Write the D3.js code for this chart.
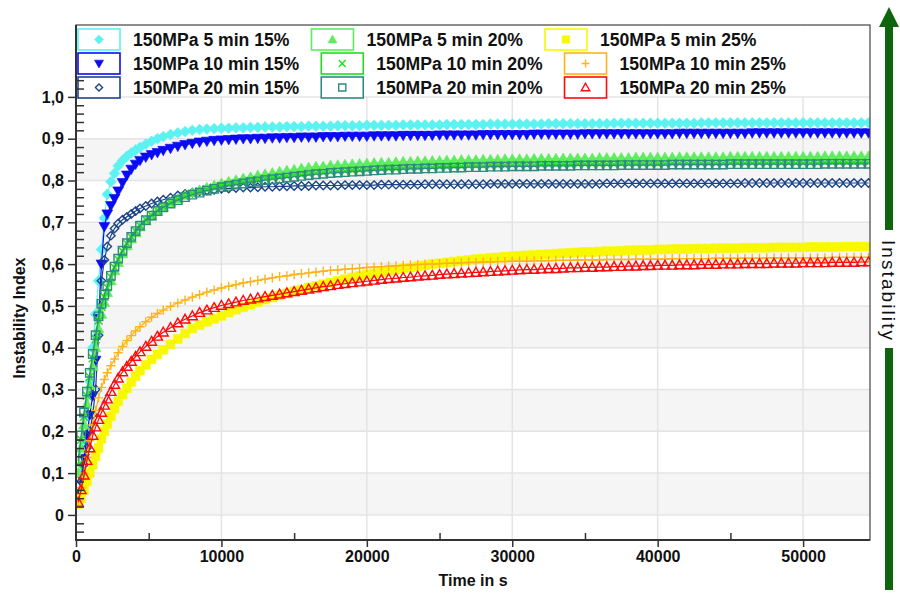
<!DOCTYPE html>
<html>
<head>
<meta charset="UTF-8">
<title>Instability Index</title>
<script src="https://cdn.jsdelivr.net/npm/d3@7"></script>
<style>
  body { margin: 0; background: #fff; }
  svg { display: block; font-family: "Liberation Sans", Arial, sans-serif; }
</style>
</head>
<body>
<script>
// measurement times (s)
const times = [150,350,550,750,950,1150,1350,1550,1750,1950,
  2150,2400,2650,2900,3200,3500,3800,4100,4400,4800,
  5200,5600,6000,6500,7000,7500,8000,8500,9000,9500,
  10000,
  10500,11000,11500,12000,12500,13000,13500,14000,14500,15000,
  15500,16000,16500,17000,17500,18000,18500,19000,19500,20000,
  20500,21000,21500,22000,22500,23000,23500,24000,24500,25000,
  25500,26000,26500,27000,27500,28000,28500,29000,29500,30000,
  30500,31000,31500,32000,32500,33000,33500,34000,34500,35000,
  35500,36000,36500,37000,37500,38000,38500,39000,39500,40000,
  40500,41000,41500,42000,42500,43000,43500,44000,44500,45000,
  45500,46000,46500,47000,47500,48000,48500,49000,49500,50000,
  50500,51000,51500,52000,52500,53000,53500,54000,54500];

const mpa5_15 = [0.05,0.1,0.165,0.24,0.32,0.4,0.48,0.56,0.635,0.71,
  0.767,0.797,0.817,0.835,0.848,0.858,0.866,0.873,0.879,0.887,
  0.894,0.9,0.905,0.91,0.914,0.917,0.92,0.922,0.923,0.924,
  0.925,
  0.925,0.926,0.926,0.927,0.927,0.928,0.928,0.928,0.929,0.929,
  0.929,0.93,0.93,0.93,0.93,0.931,0.931,0.931,0.931,0.932,
  0.932,0.932,0.932,0.932,0.933,0.933,0.933,0.933,0.933,0.933,
  0.934,0.934,0.934,0.934,0.934,0.934,0.935,0.935,0.935,0.935,
  0.935,0.935,0.935,0.935,0.936,0.936,0.936,0.936,0.936,0.936,
  0.936,0.936,0.936,0.937,0.937,0.937,0.937,0.937,0.937,0.937,
  0.937,0.937,0.937,0.937,0.937,0.938,0.938,0.938,0.938,0.938,
  0.938,0.938,0.938,0.938,0.938,0.938,0.938,0.938,0.938,0.938,
  0.938,0.938,0.938,0.938,0.938,0.938,0.938,0.938,0.938];

const mpa10_15 = [0.05,0.09,0.135,0.19,0.24,0.285,0.37,0.47,0.6,0.69,
  0.72,0.74,0.757,0.775,0.795,0.813,0.827,0.839,0.848,0.856,
  0.862,0.867,0.872,0.877,0.882,0.886,0.889,0.892,0.894,0.896,
  0.897,
  0.898,0.899,0.9,0.9,0.901,0.901,0.902,0.902,0.903,0.903,
  0.904,0.904,0.904,0.905,0.905,0.905,0.906,0.906,0.906,0.906,
  0.907,0.907,0.907,0.907,0.908,0.908,0.908,0.908,0.908,0.909,
  0.909,0.909,0.909,0.909,0.909,0.91,0.91,0.91,0.91,0.91,
  0.91,0.91,0.911,0.911,0.911,0.911,0.911,0.911,0.911,0.912,
  0.912,0.912,0.912,0.912,0.912,0.912,0.912,0.912,0.912,0.912,
  0.912,0.912,0.913,0.913,0.913,0.913,0.913,0.913,0.913,0.913,
  0.913,0.913,0.914,0.914,0.914,0.914,0.914,0.914,0.914,0.914,
  0.914,0.914,0.914,0.914,0.914,0.914,0.914,0.914,0.914];

const mpa20_15 = [0.04,0.08,0.12,0.16,0.2,0.24,0.3,0.43,0.56,0.61,
  0.642,0.668,0.685,0.697,0.706,0.713,0.72,0.727,0.733,0.739,
  0.745,0.75,0.754,0.759,0.764,0.768,0.771,0.774,0.776,0.778,
  0.78,
  0.781,0.782,0.783,0.783,0.784,0.785,0.785,0.786,0.786,0.787,
  0.787,0.787,0.788,0.788,0.788,0.788,0.789,0.789,0.789,0.789,
  0.789,0.79,0.79,0.79,0.79,0.79,0.79,0.791,0.791,0.791,
  0.791,0.791,0.791,0.791,0.791,0.791,0.792,0.792,0.792,0.792,
  0.792,0.792,0.792,0.792,0.792,0.792,0.792,0.792,0.792,0.792,
  0.792,0.792,0.793,0.793,0.793,0.793,0.793,0.793,0.793,0.793,
  0.793,0.793,0.793,0.793,0.793,0.793,0.793,0.793,0.793,0.793,
  0.793,0.794,0.794,0.794,0.794,0.794,0.794,0.794,0.794,0.794,
  0.794,0.794,0.794,0.794,0.794,0.794,0.794,0.794,0.794];

const mpa5_20 = [0.1,0.16,0.215,0.265,0.31,0.355,0.4,0.445,0.48,0.508,
  0.532,0.56,0.584,0.604,0.625,0.644,0.66,0.675,0.689,0.703,
  0.715,0.726,0.736,0.747,0.756,0.764,0.771,0.777,0.783,0.788,
  0.793,
  0.797,0.801,0.805,0.808,0.812,0.815,0.818,0.821,0.824,0.826,
  0.829,0.831,0.833,0.834,0.836,0.837,0.838,0.839,0.84,0.841,
  0.842,0.843,0.843,0.844,0.845,0.845,0.846,0.846,0.847,0.847,
  0.848,0.848,0.849,0.849,0.849,0.85,0.85,0.85,0.851,0.851,
  0.851,0.851,0.852,0.852,0.852,0.852,0.853,0.853,0.853,0.853,
  0.853,0.854,0.854,0.854,0.854,0.854,0.855,0.855,0.855,0.855,
  0.855,0.855,0.856,0.856,0.856,0.856,0.856,0.856,0.856,0.857,
  0.857,0.857,0.857,0.857,0.857,0.857,0.857,0.857,0.857,0.857,
  0.857,0.857,0.858,0.858,0.858,0.858,0.858,0.858,0.858];

const mpa10_20 = [0.12,0.18,0.235,0.285,0.33,0.375,0.42,0.465,0.498,0.522,
  0.544,0.569,0.592,0.611,0.631,0.649,0.665,0.679,0.692,0.706,
  0.717,0.728,0.737,0.747,0.755,0.762,0.768,0.774,0.779,0.783,
  0.787,
  0.79,0.793,0.796,0.799,0.801,0.804,0.806,0.808,0.81,0.812,
  0.814,0.816,0.818,0.819,0.821,0.822,0.823,0.824,0.825,0.826,
  0.827,0.828,0.829,0.829,0.83,0.831,0.831,0.832,0.832,0.833,
  0.833,0.834,0.834,0.835,0.835,0.835,0.836,0.836,0.836,0.837,
  0.837,0.837,0.837,0.838,0.838,0.838,0.838,0.838,0.839,0.839,
  0.839,0.839,0.839,0.839,0.84,0.84,0.84,0.84,0.84,0.84,
  0.84,0.841,0.841,0.841,0.841,0.841,0.841,0.841,0.841,0.842,
  0.842,0.842,0.842,0.842,0.842,0.842,0.842,0.842,0.842,0.842,
  0.842,0.842,0.843,0.843,0.843,0.843,0.843,0.843,0.843];

const mpa20_20 = [0.13,0.19,0.245,0.295,0.34,0.385,0.43,0.475,0.505,0.527,
  0.548,0.572,0.594,0.613,0.632,0.65,0.665,0.679,0.692,0.705,
  0.716,0.727,0.736,0.745,0.753,0.76,0.766,0.771,0.776,0.78,
  0.784,
  0.787,0.79,0.793,0.796,0.798,0.801,0.803,0.805,0.807,0.809,
  0.811,0.813,0.815,0.816,0.818,0.819,0.82,0.821,0.822,0.823,
  0.824,0.825,0.826,0.826,0.827,0.828,0.828,0.829,0.829,0.83,
  0.83,0.831,0.831,0.832,0.832,0.832,0.833,0.833,0.833,0.834,
  0.834,0.834,0.834,0.835,0.835,0.835,0.835,0.835,0.836,0.836,
  0.836,0.836,0.836,0.836,0.837,0.837,0.837,0.837,0.837,0.837,
  0.837,0.838,0.838,0.838,0.838,0.838,0.838,0.838,0.838,0.839,
  0.839,0.839,0.839,0.839,0.839,0.839,0.839,0.839,0.839,0.839,
  0.839,0.839,0.84,0.84,0.84,0.84,0.84,0.84,0.84];

const mpa5_25 = [0.025,0.04,0.06,0.08,0.1,0.12,0.14,0.16,0.182,0.2,
  0.217,0.236,0.254,0.272,0.288,0.303,0.318,0.332,0.345,0.359,
  0.372,0.384,0.395,0.408,0.421,0.434,0.446,0.454,0.462,0.469,
  0.476,
  0.484,0.491,0.497,0.503,0.509,0.515,0.52,0.525,0.53,0.535,
  0.539,0.544,0.548,0.552,0.556,0.56,0.564,0.568,0.572,0.575,
  0.578,0.581,0.584,0.587,0.59,0.592,0.595,0.597,0.6,0.602,
  0.604,0.606,0.608,0.61,0.612,0.613,0.615,0.616,0.618,0.619,
  0.62,0.621,0.622,0.623,0.624,0.625,0.626,0.627,0.628,0.629,
  0.629,0.63,0.631,0.631,0.632,0.633,0.633,0.634,0.634,0.635,
  0.635,0.636,0.636,0.636,0.637,0.637,0.637,0.638,0.638,0.638,
  0.638,0.639,0.639,0.639,0.639,0.64,0.64,0.64,0.64,0.64,
  0.641,0.641,0.641,0.641,0.641,0.642,0.642,0.642,0.642];

const mpa10_25 = [0.035,0.065,0.1,0.138,0.178,0.215,0.25,0.28,0.305,0.324,
  0.34,0.357,0.373,0.388,0.403,0.417,0.429,0.44,0.45,0.462,
  0.473,0.482,0.49,0.499,0.507,0.514,0.521,0.527,0.533,0.538,
  0.543,
  0.547,0.551,0.555,0.558,0.561,0.564,0.567,0.57,0.572,0.575,
  0.577,0.579,0.581,0.583,0.585,0.586,0.588,0.589,0.59,0.592,
  0.593,0.594,0.595,0.596,0.597,0.598,0.599,0.6,0.6,0.601,
  0.602,0.602,0.603,0.604,0.604,0.605,0.605,0.606,0.606,0.607,
  0.607,0.607,0.608,0.608,0.608,0.609,0.609,0.609,0.61,0.61,
  0.61,0.61,0.611,0.611,0.611,0.611,0.612,0.612,0.612,0.612,
  0.612,0.613,0.613,0.613,0.613,0.613,0.613,0.614,0.614,0.614,
  0.614,0.614,0.614,0.614,0.615,0.615,0.615,0.615,0.615,0.615,
  0.615,0.615,0.615,0.616,0.616,0.616,0.616,0.616,0.616];

const mpa20_25 = [0.03,0.06,0.095,0.13,0.16,0.19,0.21,0.228,0.245,0.262,
  0.277,0.295,0.312,0.327,0.342,0.355,0.367,0.379,0.39,0.403,
  0.415,0.427,0.437,0.448,0.459,0.468,0.476,0.484,0.49,0.496,
  0.501,
  0.505,0.509,0.513,0.516,0.519,0.522,0.525,0.528,0.531,0.534,
  0.537,0.54,0.543,0.546,0.548,0.551,0.553,0.555,0.557,0.559,
  0.561,0.563,0.565,0.566,0.568,0.569,0.571,0.572,0.573,0.575,
  0.576,0.577,0.578,0.579,0.58,0.581,0.582,0.583,0.584,0.585,
  0.586,0.587,0.587,0.588,0.589,0.589,0.59,0.591,0.591,0.592,
  0.592,0.593,0.593,0.594,0.594,0.595,0.595,0.596,0.596,0.597,
  0.597,0.597,0.598,0.598,0.598,0.599,0.599,0.599,0.6,0.6,
  0.6,0.601,0.601,0.601,0.601,0.602,0.602,0.602,0.602,0.603,
  0.603,0.603,0.603,0.604,0.604,0.604,0.604,0.605,0.605];

const seriesNames = ["150MPa 5 min 15%", "150MPa 10 min 15%", "150MPa 20 min 15%",
  "150MPa 5 min 20%", "150MPa 10 min 20%", "150MPa 20 min 20%",
  "150MPa 5 min 25%", "150MPa 10 min 25%", "150MPa 20 min 25%"];
const seriesValues = [mpa5_15, mpa10_15, mpa20_15, mpa5_20, mpa10_20, mpa20_20, mpa5_25, mpa10_25, mpa20_25];

const xTicks = [0, 10000, 20000, 30000, 40000, 50000];
const xMinorTicks = [5000, 15000, 25000, 35000, 45000];
const yTicks = [0, 0.1, 0.2, 0.3, 0.4, 0.5, 0.6, 0.7, 0.8, 0.9, 1.0];
const yTickLabels = ["0", "0,1", "0,2", "0,3", "0,4", "0,5", "0,6", "0,7", "0,8", "0,9", "1,0"];

// look of each series, same order as seriesNames
const styles = [
  {color: "#5cf2f2", shape: "diamond", filled: true, r: 5.4},
  {color: "#0a0af5", shape: "triDown", filled: true, r: 5.4},
  {color: "#1c4587", shape: "diamond", filled: false, r: 4.2},
  {color: "#5ded5d", shape: "triUp", filled: true, r: 5.4},
  {color: "#22dd22", shape: "cross", filled: false, r: 4},
  {color: "#2e8b80", shape: "square", filled: false, r: 4.2},
  {color: "#f8f800", shape: "square", filled: true, r: 4.4},
  {color: "#ffb31a", shape: "plus", filled: false, r: 4.6},
  {color: "#ff0a0a", shape: "triUp", filled: false, r: 5}
];

function marker(shape, r) {
  switch (shape) {
    case "diamond": return `M0,${-r}L${r},0L0,${r}L${-r},0Z`;
    case "triDown": return `M${-r},${-r * 0.75}L${r},${-r * 0.75}L0,${r}Z`;
    case "triUp": return `M0,${-r}L${r},${r * 0.75}L${-r},${r * 0.75}Z`;
    case "square": return `M${-r},${-r}H${r}V${r}H${-r}Z`;
    case "cross": return `M${-r},${-r}L${r},${r}M${r},${-r}L${-r},${r}`;
    case "plus": return `M${-r},0H${r}M0,${-r}V${r}`;
  }
}

const width = 900, height = 594;
const x = d3.scaleLinear().domain([0, 54600]).range([76, 870]);
const y = d3.scaleLinear().domain([-0.06, 1.172]).range([540, 25]);

const svg = d3.select("body").append("svg")
  .attr("width", width)
  .attr("height", height);

svg.append("clipPath").attr("id", "plot")
  .append("rect")
  .attr("x", 76).attr("y", 25).attr("width", 794).attr("height", 515);

// alternating grey bands
svg.append("g").selectAll("rect")
  .data([0, 0.2, 0.4, 0.6, 0.8])
  .join("rect")
  .attr("x", x(0)).attr("width", x(54600) - x(0))
  .attr("y", d => y(d + 0.1)).attr("height", d => y(d) - y(d + 0.1))
  .attr("fill", "#f5f5f5");

// grid
svg.append("g").attr("stroke", "#e4e4e4").attr("stroke-width", 1.5)
  .selectAll("line").data(yTicks).join("line")
  .attr("x1", x(0)).attr("x2", x(54600))
  .attr("y1", d => y(d)).attr("y2", d => y(d));
svg.append("g").attr("stroke", "#e4e4e4").attr("stroke-width", 1.5)
  .selectAll("line").data(xTicks.slice(1)).join("line")
  .attr("x1", d => x(d)).attr("x2", d => x(d))
  .attr("y1", 25).attr("y2", 540);

// series
const line = d3.line().x(d => x(d.t)).y(d => y(d.v));
const plot = svg.append("g").attr("clip-path", "url(#plot)");

seriesValues.forEach((vals, i) => {
  const st = styles[i];
  const pts = times.map((t, j) => ({t: t, v: vals[j]}));
  const g = plot.append("g");
  g.append("path")
    .datum(pts)
    .attr("d", line)
    .attr("fill", "none")
    .attr("stroke", st.color)
    .attr("stroke-width", 1.2);
  g.selectAll("path.m")
    .data(pts)
    .join("path")
    .attr("class", "m")
    .attr("transform", d => `translate(${x(d.t)},${y(d.v)})`)
    .attr("d", marker(st.shape, st.r))
    .attr("fill", st.filled ? st.color : "none")
    .attr("stroke", st.color)
    .attr("stroke-width", st.filled ? 0.6 : 1.4);
});

// legend
svg.append("rect")
  .attr("x", 77).attr("y", 26).attr("width", 792).attr("height", 70)
  .attr("fill", "#fff");

const legendRows = [[0, 3, 6], [1, 4, 7], [2, 5, 8]];
const rowY = [39.5, 63.5, 87.5];
const legend = svg.append("g").attr("font-weight", "bold").attr("font-size", 17.6);

legendRows.forEach((row, r) => {
  let lx = 78;
  row.forEach(i => {
    const st = styles[i];
    const g = legend.append("g");
    g.append("rect")
      .attr("x", lx).attr("y", rowY[r] - 10.5)
      .attr("width", 42).attr("height", 21)
      .attr("fill", "#fff")
      .attr("stroke", st.color)
      .attr("stroke-width", 1.6);
    g.append("path")
      .attr("transform", `translate(${lx + 21},${rowY[r]})`)
      .attr("d", marker(st.shape, Math.min(st.r * 0.85, 4.5)))
      .attr("fill", st.filled ? st.color : "none")
      .attr("stroke", st.color)
      .attr("stroke-width", st.filled ? 0.6 : 1.4);
    const txt = g.append("text")
      .attr("x", lx + 55).attr("y", rowY[r] + 6)
      .attr("fill", "#111")
      .text(seriesNames[i]);
    lx = lx + 55 + txt.node().getComputedTextLength() + 22;
  });
});

// axes
const yMinor = d3.range(-2, 53).map(k => k * 0.02).filter(v => Math.round(v * 50) % 5 !== 0);

const yAxis = svg.append("g")
  .attr("transform", `translate(${x(0)},0)`)
  .call(d3.axisLeft(y).tickValues(yTicks).tickFormat((d, i) => yTickLabels[i])
    .tickSizeInner(8).tickSizeOuter(0).tickPadding(4));
yAxis.selectAll("text").attr("font-size", 16).attr("font-weight", "bold")
  .attr("font-family", "Liberation Sans, Arial, sans-serif").attr("fill", "#111");

const yAxisMinor = svg.append("g")
  .attr("transform", `translate(${x(0)},0)`)
  .call(d3.axisRight(y).tickValues(yMinor).tickFormat("").tickSizeInner(8).tickSizeOuter(0));

const xAxis = svg.append("g")
  .attr("transform", `translate(0,540)`)
  .call(d3.axisBottom(x).tickValues(xTicks).tickFormat(d3.format("d"))
    .tickSizeInner(7).tickSizeOuter(0).tickPadding(4));
xAxis.selectAll("text").attr("font-size", 16).attr("font-weight", "bold")
  .attr("font-family", "Liberation Sans, Arial, sans-serif").attr("fill", "#111");

const xAxisMinor = svg.append("g")
  .attr("transform", `translate(0,540)`)
  .call(d3.axisTop(x).tickValues(xMinorTicks).tickFormat("").tickSizeInner(7).tickSizeOuter(0));

[yAxis, yAxisMinor, xAxis, xAxisMinor].forEach(a => {
  a.select(".domain").remove();
  a.selectAll("line").attr("stroke", "#333").attr("stroke-width", 1.5);
});

// frame
svg.append("rect")
  .attr("x", 76).attr("y", 25).attr("width", 794).attr("height", 515)
  .attr("fill", "none").attr("stroke", "#444").attr("stroke-width", 1.2);
svg.append("line")
  .attr("x1", 76).attr("x2", 76).attr("y1", 25).attr("y2", 541)
  .attr("stroke", "#333").attr("stroke-width", 2);
svg.append("line")
  .attr("x1", 75).attr("x2", 870).attr("y1", 540).attr("y2", 540)
  .attr("stroke", "#333").attr("stroke-width", 2);

// axis titles
svg.append("text")
  .attr("x", 473).attr("y", 586)
  .attr("text-anchor", "middle")
  .attr("font-size", 16).attr("font-weight", "bold").attr("fill", "#111")
  .text("Time in s");

svg.append("text")
  .attr("transform", "translate(25,318) rotate(-90)")
  .attr("text-anchor", "middle")
  .attr("font-size", 16).attr("font-weight", "bold").attr("fill", "#111")
  .text("Instability  Index");

// instability arrow on the right
const arrowColor = "#0e650e";
const arrow = svg.append("g");
arrow.append("path")
  .attr("d", "M889,7L899,27L879,27Z")
  .attr("fill", arrowColor);
arrow.append("rect")
  .attr("x", 885).attr("y", 26).attr("width", 8).attr("height", 204)
  .attr("fill", arrowColor);
arrow.append("rect")
  .attr("x", 885).attr("y", 348).attr("width", 8).attr("height", 242)
  .attr("fill", arrowColor);
arrow.append("text")
  .attr("transform", "translate(888,290) rotate(90)")
  .attr("text-anchor", "middle")
  .attr("dominant-baseline", "central")
  .attr("font-size", 19)
  .attr("textLength", 100)
  .attr("lengthAdjust", "spacing")
  .attr("fill", "#111")
  .text("Instability");
</script>
</body>
</html>
